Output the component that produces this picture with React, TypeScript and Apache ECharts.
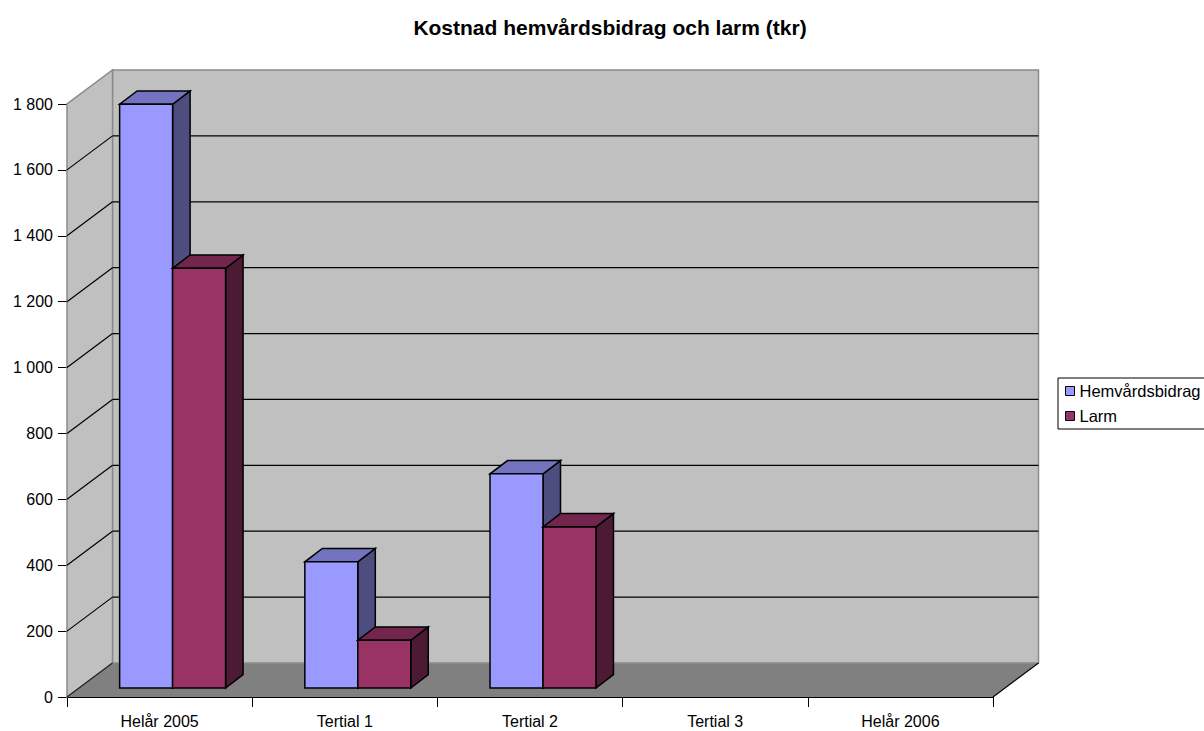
import React, { useEffect, useRef } from "react";
import * as echarts from "echarts";

const TITLE = "Kostnad hemvårdsbidrag och larm (tkr)";
const categories = ["Helår 2005", "Tertial 1", "Tertial 2", "Tertial 3", "Helår 2006"];
const seriesNames = ["Hemvårdsbidrag", "Larm"];
const hemvard: (number | null)[] = [1772, 383, 650, null, null];
const larm: (number | null)[] = [1274, 145, 489, null, null];
const yTicks = [0, 200, 400, 600, 800, 1000, 1200, 1400, 1600, 1800];

const FRONT = ["#9999FF", "#993366"];
const TOP = ["#7373BF", "#73264D"];
const SIDE = ["#4D4D80", "#4D1A33"];

const DEPTH_X = 45.5;
const DEPTH_Y = -34;
const BAR_SHIFT_X = 13;
const BAR_SHIFT_Y = -9;
const BAR_DEPTH_X = 17.5;
const BAR_DEPTH_Y = -13.3;
const BAR_FRAC = 0.286;

function fmt(v: number) {
  return String(v).replace(/\B(?=(\d{3})+(?!\d))/g, " ");
}

export default function App() {
  const ref = useRef<HTMLDivElement>(null);
  useEffect(() => {
    if (!ref.current) return;
    const chart = echarts.init(ref.current, undefined, { renderer: "svg" });
    const font = "Liberation Sans, Arial, sans-serif";

    const wallsRender = (params: any, api: any) => {
      const cs = params.coordSys;
      const xl = cs.x;
      const xr = cs.x + cs.width;
      const y0 = api.coord([0, 0])[1];
      const yTop = api.coord([0, yTicks[yTicks.length - 1]])[1];
      const children: any[] = [];
      children.push({
        type: "polygon",
        shape: {
          points: [
            [xl, y0],
            [xr, y0],
            [xr + DEPTH_X, y0 + DEPTH_Y],
            [xl + DEPTH_X, y0 + DEPTH_Y],
          ],
        },
        style: { fill: "#808080", stroke: null },
      });
      children.push({
        type: "rect",
        shape: {
          x: xl + DEPTH_X,
          y: yTop + DEPTH_Y,
          width: cs.width,
          height: y0 - yTop,
        },
        style: { fill: "#C0C0C0", stroke: "#8A8A8A", lineWidth: 1.5 },
      });
      children.push({
        type: "polygon",
        shape: {
          points: [
            [xl, y0],
            [xl, yTop],
            [xl + DEPTH_X, yTop + DEPTH_Y],
            [xl + DEPTH_X, y0 + DEPTH_Y],
          ],
        },
        style: { fill: "#C0C0C0", stroke: "#8A8A8A", lineWidth: 1.5 },
      });
      yTicks.slice(1, -1).forEach((t) => {
        const y = api.coord([0, t])[1];
        children.push({
          type: "line",
          shape: { x1: xl + DEPTH_X, y1: y + DEPTH_Y, x2: xr + DEPTH_X, y2: y + DEPTH_Y },
          style: { stroke: "#000", lineWidth: 1.2 },
        });
        children.push({
          type: "line",
          shape: { x1: xl, y1: y, x2: xl + DEPTH_X, y2: y + DEPTH_Y },
          style: { stroke: "#000", lineWidth: 1.2 },
        });
      });
      children.push({
        type: "line",
        shape: { x1: xl, y1: y0, x2: xl + DEPTH_X, y2: y0 + DEPTH_Y },
        style: { stroke: "#222", lineWidth: 1.2 },
      });
      children.push({
        type: "line",
        shape: { x1: xr, y1: y0, x2: xr + DEPTH_X, y2: y0 + DEPTH_Y },
        style: { stroke: "#000", lineWidth: 1.2 },
      });
      return { type: "group", children };
    };

    const makeBarRender = (s: number) => (params: any, api: any) => {
      const i = api.value(0);
      const v = api.value(1);
      const [cx, y0a] = api.coord([i, 0]);
      const y1a = api.coord([i, v])[1];
      const bw = api.size([1, 0])[0] * BAR_FRAC;
      const left = (s === 0 ? cx - bw : cx) + BAR_SHIFT_X;
      const right = left + bw;
      const yb = y0a + BAR_SHIFT_Y;
      const yt = y1a + BAR_SHIFT_Y;
      const st = { stroke: "#000", lineWidth: 1.5, lineJoin: "miter" };
      return {
        type: "group",
        children: [
          {
            type: "polygon",
            shape: {
              points: [
                [right, yt],
                [right + BAR_DEPTH_X, yt + BAR_DEPTH_Y],
                [right + BAR_DEPTH_X, yb + BAR_DEPTH_Y],
                [right, yb],
              ],
            },
            style: { fill: SIDE[s], ...st },
          },
          {
            type: "polygon",
            shape: {
              points: [
                [left, yt],
                [right, yt],
                [right + BAR_DEPTH_X, yt + BAR_DEPTH_Y],
                [left + BAR_DEPTH_X, yt + BAR_DEPTH_Y],
              ],
            },
            style: { fill: TOP[s], ...st },
          },
          {
            type: "rect",
            shape: { x: left, y: yt, width: bw, height: yb - yt },
            style: { fill: FRONT[s], ...st },
          },
        ],
      };
    };

    const seriesValues = [hemvard, larm];

    chart.setOption({
      animation: false,
      backgroundColor: "#FFFFFF",
      title: {
        text: TITLE,
        left: 605,
        textAlign: "center",
        top: 12,
        textStyle: { fontFamily: font, fontSize: 21, fontWeight: "bold", color: "#000" },
      },
      legend: {
        data: seriesNames,
        orient: "vertical",
        left: 1058,
        top: 378,
        icon: "rect",
        itemWidth: 9,
        itemHeight: 9,
        itemGap: 7,
        padding: [4, 20, 4, 7],
        borderColor: "#000",
        borderWidth: 1,
        backgroundColor: "#fff",
        itemStyle: { borderColor: "#000", borderWidth: 1 },
        textStyle: { fontFamily: font, fontSize: 16.5, color: "#000", lineHeight: 18 },
      },
      grid: { left: 67, top: 104, width: 926, height: 593, containLabel: false },
      xAxis: {
        type: "category",
        data: categories,
        boundaryGap: true,
        axisLine: { show: true, lineStyle: { color: "#000", width: 1 } },
        axisTick: { show: true, length: 10, lineStyle: { color: "#000" } },
        axisLabel: { fontFamily: font, fontSize: 16, color: "#000", margin: 16 },
        splitLine: { show: false },
      },
      yAxis: {
        type: "value",
        min: 0,
        max: 1800,
        interval: 200,
        axisLine: { show: true, lineStyle: { color: "#000", width: 1 } },
        axisTick: { show: true, length: 9, lineStyle: { color: "#000" } },
        axisLabel: {
          fontFamily: font,
          fontSize: 16,
          color: "#000",
          margin: 14,
          formatter: (v: number) => fmt(v),
        },
        splitLine: { show: false },
      },
      series: [
        {
          type: "custom",
          name: "__walls",
          silent: true,
          clip: false,
          z: 1,
          renderItem: wallsRender,
          data: [[0, 0]],
          tooltip: { show: false },
        },
        ...seriesNames.map((name, s) => ({
          type: "custom",
          name,
          clip: false,
          z: 2 + s,
          itemStyle: { color: FRONT[s] },
          renderItem: makeBarRender(s),
          data: seriesValues[s]
            .map((v, i) => [i, v])
            .filter((d) => d[1] !== null),
        })),
      ],
    });
    return () => chart.dispose();
  }, []);
  return (
    <div
      ref={ref}
      style={{ position: "fixed", left: 0, top: 0, width: 1204, height: 731 }}
    />
  );
}
